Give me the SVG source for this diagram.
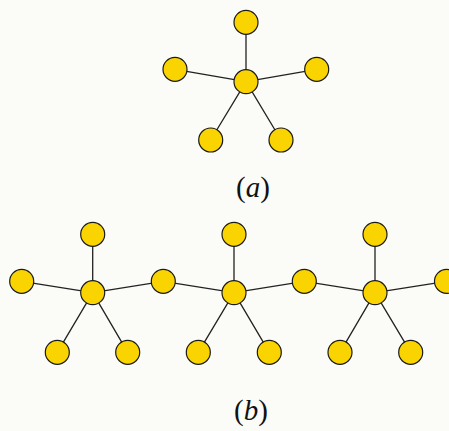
<svg xmlns="http://www.w3.org/2000/svg" width="449" height="431" viewBox="0 0 449 431">
<style>
.n{fill:#fad400;stroke:#1a1a1a;stroke-width:1.2}
.e{stroke:#222;stroke-width:1.3;fill:none}
.lbl{font-family:"Liberation Serif","DejaVu Serif",serif;font-size:29px;fill:#111}
.it{font-style:italic}
</style>
<rect width="449" height="431" fill="#fbfbf7"/>
<g id="connectors">
<path class="e" d="M246,81.7L246,22.3M246,81.7L175,69.3M246,81.7L316.7,69.3M246,81.7L210.7,140M246,81.7L281,140"/>
<path class="e" d="M92.7,292.7L92.7,234.3M92.7,292.7L21.7,281.3M92.7,292.7L57.3,352.3M92.7,292.7L127.7,352.3M92.7,292.7L163.3,281.3L234,292.7"/>
<path class="e" d="M234,292.7L234,234.3M234,292.7L198.3,352.3M234,292.7L269.3,352.3M234,292.7L304.3,281.3L375,292.7"/>
<path class="e" d="M375,292.7L375,234.3M375,292.7L340,352.3M375,292.7L410.7,352.3M375,292.7L446.5,281.3"/>
</g>
<g id="a-center"><circle class="n" cx="246" cy="81.7" r="12"/></g>
<g id="a-top"><circle class="n" cx="246" cy="22.3" r="12"/></g>
<g id="a-left"><circle class="n" cx="175" cy="69.3" r="12"/></g>
<g id="a-right"><circle class="n" cx="316.7" cy="69.3" r="12"/></g>
<g id="a-bl"><circle class="n" cx="210.7" cy="140" r="12"/></g>
<g id="a-br"><circle class="n" cx="281" cy="140" r="12"/></g>
<g id="b1-center"><circle class="n" cx="92.7" cy="292.7" r="12"/></g>
<g id="b1-top"><circle class="n" cx="92.7" cy="234.3" r="12"/></g>
<g id="b1-left"><circle class="n" cx="21.7" cy="281.3" r="12"/></g>
<g id="b1-bl"><circle class="n" cx="57.3" cy="352.3" r="12"/></g>
<g id="b1-br"><circle class="n" cx="127.7" cy="352.3" r="12"/></g>
<g id="b-link1"><circle class="n" cx="163.3" cy="281.3" r="12"/></g>
<g id="b2-center"><circle class="n" cx="234" cy="292.7" r="12"/></g>
<g id="b2-top"><circle class="n" cx="234" cy="234.3" r="12"/></g>
<g id="b2-bl"><circle class="n" cx="198.3" cy="352.3" r="12"/></g>
<g id="b2-br"><circle class="n" cx="269.3" cy="352.3" r="12"/></g>
<g id="b-link2"><circle class="n" cx="304.3" cy="281.3" r="12"/></g>
<g id="b3-center"><circle class="n" cx="375" cy="292.7" r="12"/></g>
<g id="b3-top"><circle class="n" cx="375" cy="234.3" r="12"/></g>
<g id="b3-bl"><circle class="n" cx="340" cy="352.3" r="12"/></g>
<g id="b3-br"><circle class="n" cx="410.7" cy="352.3" r="12"/></g>
<g id="b3-right"><circle class="n" cx="446.5" cy="281.3" r="12"/></g>
<g id="label-a"><text class="lbl" x="253" y="197" text-anchor="middle">(<tspan class="it">a</tspan>)</text></g>
<g id="label-b"><text class="lbl" x="251" y="420" text-anchor="middle">(<tspan class="it">b</tspan>)</text></g>
</svg>
